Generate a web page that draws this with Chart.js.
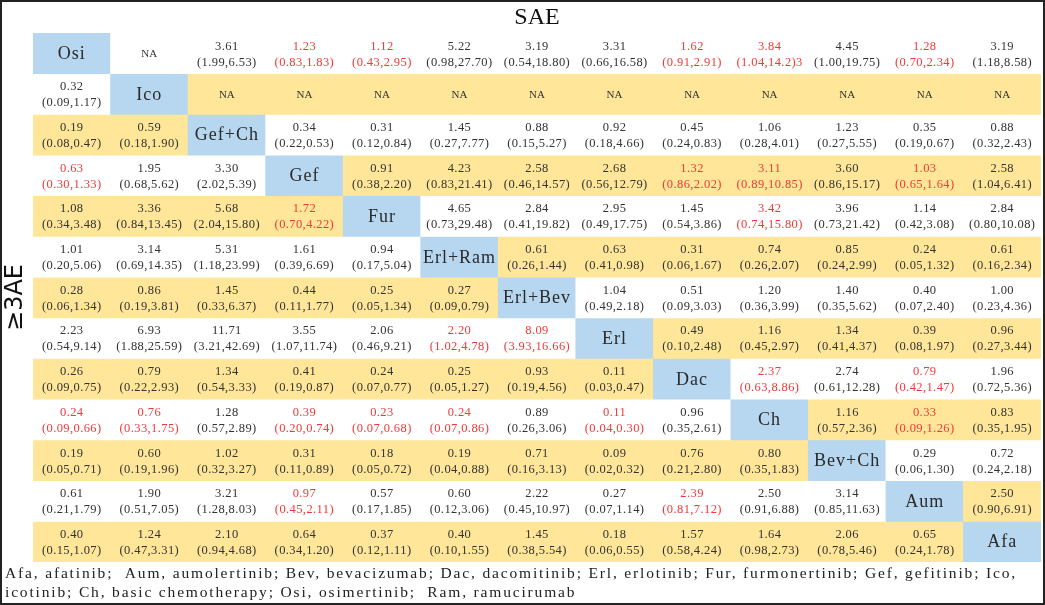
<!DOCTYPE html>
<html>
<head>
<meta charset="utf-8">
<script src="https://cdn.jsdelivr.net/npm/chart.js@4.4.0/dist/chart.umd.min.js"></script>
<style>
  html, body { margin: 0; padding: 0; background: #fff; }
  #wrap { width: 1045px; height: 605px; }
</style>
</head>
<body>
<div id="wrap"><canvas id="leagueChart"></canvas></div>
<script>
// Treatments, in the order of rows and columns
const treatments = ["Osi", "Ico", "Gef+Ch", "Gef", "Fur", "Erl+Ram", "Erl+Bev", "Erl", "Dac", "Ch", "Bev+Ch", "Aum", "Afa"];

// One array per row: "estimate (95% CI)", null on the diagonal
const rowOsi = [null, "NA", "3.61 (1.99,6.53)", "1.23 (0.83,1.83)", "1.12 (0.43,2.95)", "5.22 (0.98,27.70)", "3.19 (0.54,18.80)", "3.31 (0.66,16.58)", "1.62 (0.91,2.91)", "3.84 (1.04,14.2)3", "4.45 (1.00,19.75)", "1.28 (0.70,2.34)", "3.19 (1.18,8.58)"];
const rowIco = ["0.32 (0.09,1.17)", null, "NA", "NA", "NA", "NA", "NA", "NA", "NA", "NA", "NA", "NA", "NA"];
const rowGefCh = ["0.19 (0.08,0.47)", "0.59 (0.18,1.90)", null, "0.34 (0.22,0.53)", "0.31 (0.12,0.84)", "1.45 (0.27,7.77)", "0.88 (0.15,5.27)", "0.92 (0.18,4.66)", "0.45 (0.24,0.83)", "1.06 (0.28,4.01)", "1.23 (0.27,5.55)", "0.35 (0.19,0.67)", "0.88 (0.32,2.43)"];
const rowGef = ["0.63 (0.30,1.33)", "1.95 (0.68,5.62)", "3.30 (2.02,5.39)", null, "0.91 (0.38,2.20)", "4.23 (0.83,21.41)", "2.58 (0.46,14.57)", "2.68 (0.56,12.79)", "1.32 (0.86,2.02)", "3.11 (0.89,10.85)", "3.60 (0.86,15.17)", "1.03 (0.65,1.64)", "2.58 (1.04,6.41)"];
const rowFur = ["1.08 (0.34,3.48)", "3.36 (0.84,13.45)", "5.68 (2.04,15.80)", "1.72 (0.70,4.22)", null, "4.65 (0.73,29.48)", "2.84 (0.41,19.82)", "2.95 (0.49,17.75)", "1.45 (0.54,3.86)", "3.42 (0.74,15.80)", "3.96 (0.73,21.42)", "1.14 (0.42,3.08)", "2.84 (0.80,10.08)"];
const rowErlRam = ["1.01 (0.20,5.06)", "3.14 (0.69,14.35)", "5.31 (1.18,23.99)", "1.61 (0.39,6.69)", "0.94 (0.17,5.04)", null, "0.61 (0.26,1.44)", "0.63 (0.41,0.98)", "0.31 (0.06,1.67)", "0.74 (0.26,2.07)", "0.85 (0.24,2.99)", "0.24 (0.05,1.32)", "0.61 (0.16,2.34)"];
const rowErlBev = ["0.28 (0.06,1.34)", "0.86 (0.19,3.81)", "1.45 (0.33,6.37)", "0.44 (0.11,1.77)", "0.25 (0.05,1.34)", "0.27 (0.09,0.79)", null, "1.04 (0.49,2.18)", "0.51 (0.09,3.03)", "1.20 (0.36,3.99)", "1.40 (0.35,5.62)", "0.40 (0.07,2.40)", "1.00 (0.23,4.36)"];
const rowErl = ["2.23 (0.54,9.14)", "6.93 (1.88,25.59)", "11.71 (3.21,42.69)", "3.55 (1.07,11.74)", "2.06 (0.46,9.21)", "2.20 (1.02,4.78)", "8.09 (3.93,16.66)", null, "0.49 (0.10,2.48)", "1.16 (0.45,2.97)", "1.34 (0.41,4.37)", "0.39 (0.08,1.97)", "0.96 (0.27,3.44)"];
const rowDac = ["0.26 (0.09,0.75)", "0.79 (0.22,2.93)", "1.34 (0.54,3.33)", "0.41 (0.19,0.87)", "0.24 (0.07,0.77)", "0.25 (0.05,1.27)", "0.93 (0.19,4.56)", "0.11 (0.03,0.47)", null, "2.37 (0.63,8.86)", "2.74 (0.61,12.28)", "0.79 (0.42,1.47)", "1.96 (0.72,5.36)"];
const rowCh = ["0.24 (0.09,0.66)", "0.76 (0.33,1.75)", "1.28 (0.57,2.89)", "0.39 (0.20,0.74)", "0.23 (0.07,0.68)", "0.24 (0.07,0.86)", "0.89 (0.26,3.06)", "0.11 (0.04,0.30)", "0.96 (0.35,2.61)", null, "1.16 (0.57,2.36)", "0.33 (0.09,1.26)", "0.83 (0.35,1.95)"];
const rowBevCh = ["0.19 (0.05,0.71)", "0.60 (0.19,1.96)", "1.02 (0.32,3.27)", "0.31 (0.11,0.89)", "0.18 (0.05,0.72)", "0.19 (0.04,0.88)", "0.71 (0.16,3.13)", "0.09 (0.02,0.32)", "0.76 (0.21,2.80)", "0.80 (0.35,1.83)", null, "0.29 (0.06,1.30)", "0.72 (0.24,2.18)"];
const rowAum = ["0.61 (0.21,1.79)", "1.90 (0.51,7.05)", "3.21 (1.28,8.03)", "0.97 (0.45,2.11)", "0.57 (0.17,1.85)", "0.60 (0.12,3.06)", "2.22 (0.45,10.97)", "0.27 (0.07,1.14)", "2.39 (0.81,7.12)", "2.50 (0.91,6.88)", "3.14 (0.85,11.63)", null, "2.50 (0.90,6.91)"];
const rowAfa = ["0.40 (0.15,1.07)", "1.24 (0.47,3.31)", "2.10 (0.94,4.68)", "0.64 (0.34,1.20)", "0.37 (0.12,1.11)", "0.40 (0.10,1.55)", "1.45 (0.38,5.54)", "0.18 (0.06,0.55)", "1.57 (0.58,4.24)", "1.64 (0.98,2.73)", "2.06 (0.78,5.46)", "0.65 (0.24,1.78)", null];

// Cells printed in red ("row-col")
const redCells = ["0-3", "0-4", "0-8", "0-9", "0-11", "3-0", "3-8", "3-9", "3-11", "4-3", "4-9",
  "7-5", "7-6", "8-9", "8-11", "9-0", "9-1", "9-3", "9-4", "9-5", "9-7", "9-11", "11-3", "11-8"];

const topTitle = "SAE";
const sideTitle = "\u22653AE";
const footerLines = [
  "Afa, afatinib;  Aum, aumolertinib; Bev, bevacizumab; Dac, dacomitinib; Erl, erlotinib; Fur, furmonertinib; Gef, gefitinib; Ico,",
  "icotinib; Ch, basic chemotherapy; Osi, osimertinib;  Ram, ramucirumab"
];

const rows = [rowOsi, rowIco, rowGefCh, rowGef, rowFur, rowErlRam, rowErlBev, rowErl, rowDac, rowCh, rowBevCh, rowAum, rowAfa];

const YELLOW = "#ffe699";
const BLUE = "#b6d7ef";
const WHITE = "#ffffff";

// even rows: yellow left of the diagonal, odd rows: yellow right of it
function cellColour(r, c) {
  if (r === c) return BLUE;
  const below = c < r;
  if (r % 2 === 0) return below ? YELLOW : WHITE;
  return below ? WHITE : YELLOW;
}

const datasets = rows.map((row, r) => ({
  label: treatments[r],
  data: treatments.map(() => [r, r + 1]),
  backgroundColor: (ctx) => cellColour(r, ctx.dataIndex),
  borderWidth: 0,
  grouped: false,
  barPercentage: 1,
  categoryPercentage: 1
}));

// Draws the cell texts, titles and footer
const textPlugin = {
  id: "leagueText",
  afterDatasetsDraw(chart) {
    const ctx = chart.ctx;
    ctx.save();
    ctx.textAlign = "center";
    ctx.textBaseline = "middle";
    chart.data.datasets.forEach((ds, r) => {
      const meta = chart.getDatasetMeta(r);
      meta.data.forEach((bar, c) => {
        const cx = bar.x;
        const cy = (bar.y + bar.base) / 2 + 1;
        const txt = rows[r][c];
        if (txt === null) {
          ctx.fillStyle = "#2b2b2b";
          ctx.font = "18px 'Liberation Serif'";
          ctx.letterSpacing = "1px";
          ctx.fillText(treatments[r], cx, cy);
          return;
        }
        ctx.fillStyle = redCells.includes(r + "-" + c) ? "#f03a3a" : "#333333";
        ctx.letterSpacing = "0px";
        if (txt === "NA") {
          ctx.font = "11px 'Liberation Serif'";
          ctx.fillText(txt, cx, cy);
          return;
        }
        const split = txt.indexOf(" ");
        ctx.font = "12.5px 'Liberation Serif'";
        ctx.letterSpacing = "0.4px";
        ctx.fillText(txt.slice(0, split), cx, cy - 8);
        ctx.fillText(txt.slice(split + 1), cx, cy + 8);
      });
    });

    const area = chart.chartArea;
    ctx.fillStyle = "#111";
    ctx.letterSpacing = "0px";
    ctx.font = "24px 'Liberation Serif'";
    ctx.fillText(topTitle, (area.left + area.right) / 2, 18);

    ctx.save();
    ctx.translate(16, (area.top + area.bottom) / 2);
    ctx.rotate(-Math.PI / 2);
    ctx.font = "24px 'DejaVu Sans'";
    ctx.fillText(sideTitle, 0, 0);
    ctx.restore();

    // footer stretched to the width of the first line in the reference
    ctx.textAlign = "left";
    ctx.font = "15.5px 'Liberation Serif'";
    ctx.fillStyle = "#222";
    const natural = ctx.measureText(footerLines[0]).width;
    const spacing = (1012 - natural) / footerLines[0].length;
    ctx.letterSpacing = spacing + "px";
    ctx.fillText(footerLines[0], 5, 574);
    ctx.fillText(footerLines[1], 5, 593);

    ctx.letterSpacing = "0px";
    ctx.strokeStyle = "#222";
    ctx.lineWidth = 2;
    ctx.strokeRect(1, 1, chart.width - 2, chart.height - 2);
    ctx.restore();
  }
};

let ctx = document.getElementById("leagueChart").getContext("2d");
let leagueChart = new Chart(ctx, {
  type: "bar",
  data: {
    labels: treatments,
    datasets: datasets
  },
  options: {
    responsive: true,
    maintainAspectRatio: false,
    animation: false,
    layout: { padding: { left: 33, right: 4, top: 33, bottom: 43 } },
    scales: {
      x: { type: "category", display: false, offset: true },
      y: { type: "linear", min: 0, max: 13, reverse: true, display: false }
    },
    plugins: {
      legend: { display: false },
      tooltip: { enabled: false },
      title: { display: false }
    }
  },
  plugins: [textPlugin]
});
</script>
</body>
</html>
